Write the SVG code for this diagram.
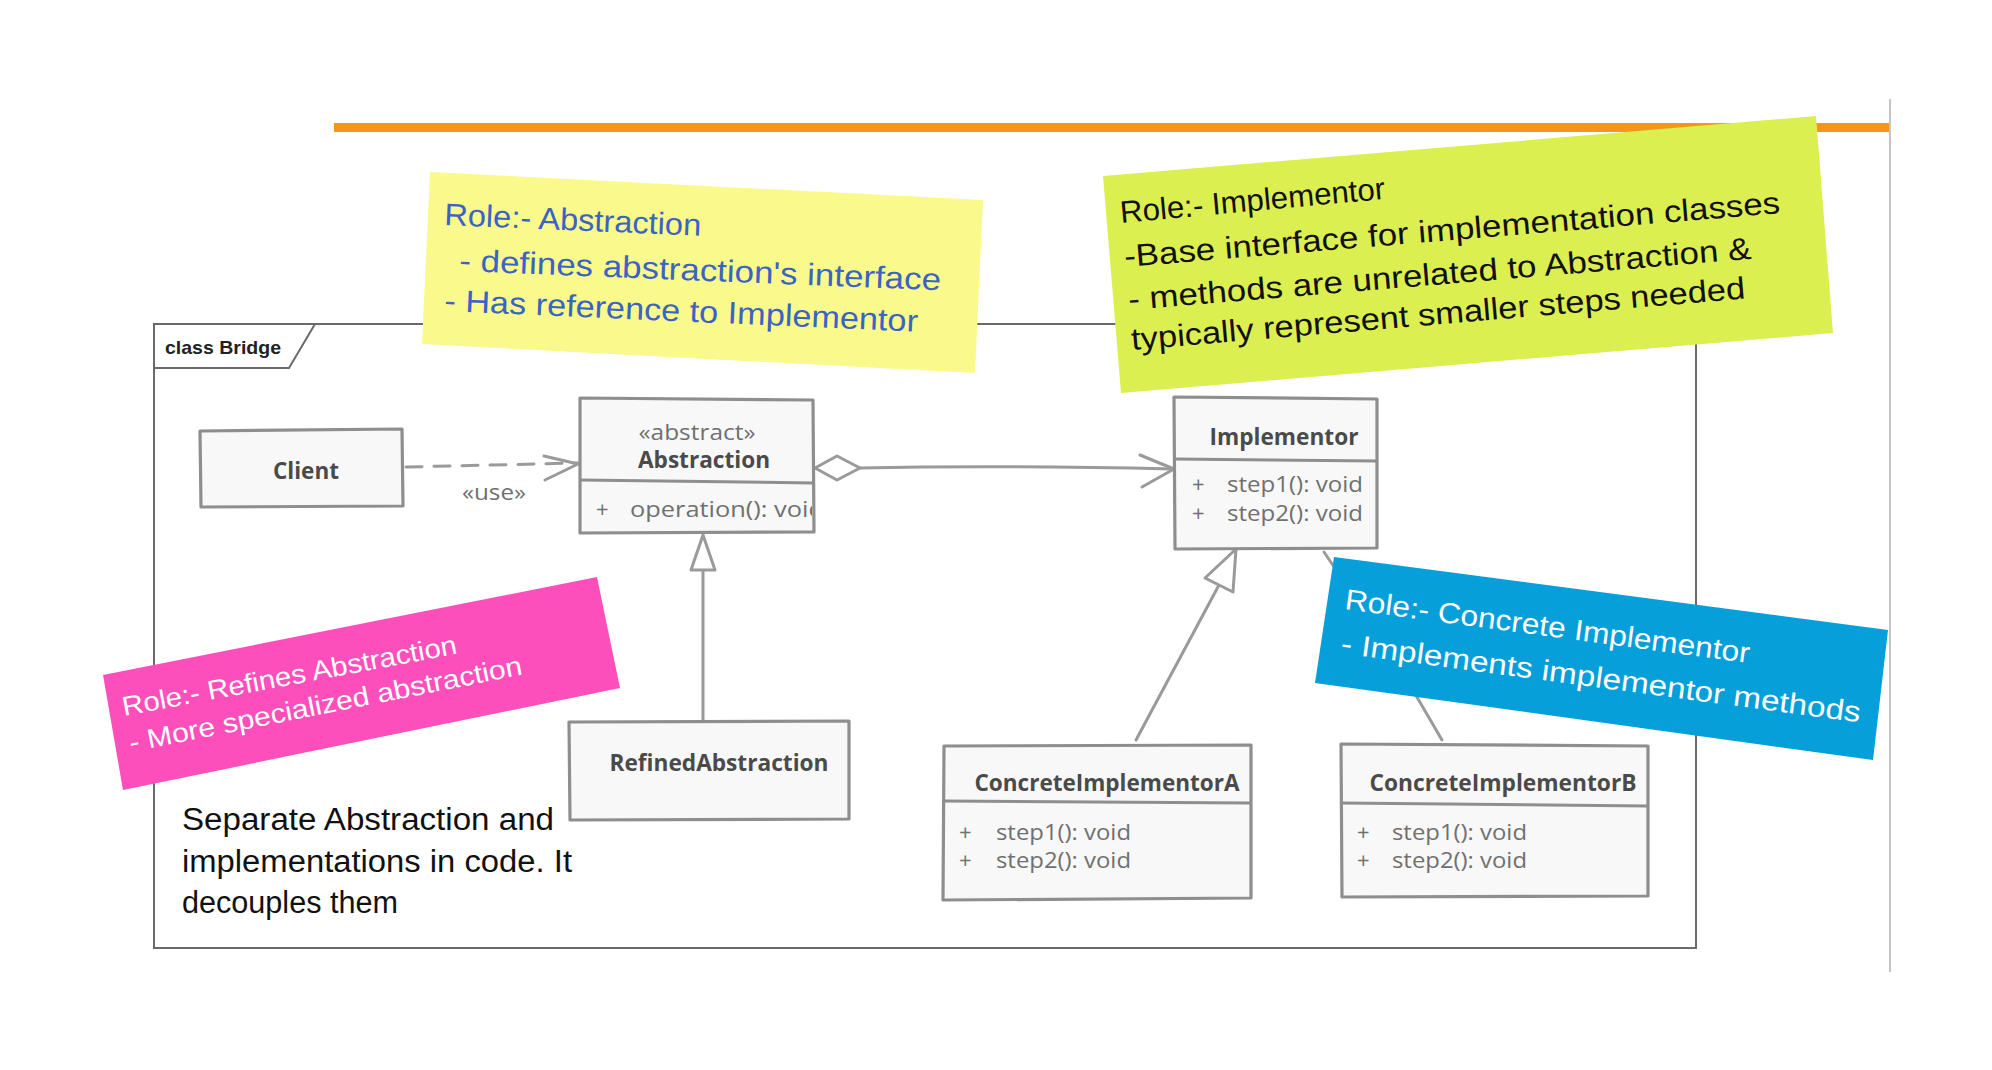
<svg xmlns="http://www.w3.org/2000/svg" width="1992" height="1070" viewBox="0 0 1992 1070">
<defs>
<style>
.box{fill:#f8f8f8;stroke:#8e8e8e;stroke-width:3.2;stroke-linejoin:round}
.div{fill:none;stroke:#8e8e8e;stroke-width:3}
.title{font-family:"Open Sans","Noto Sans","Liberation Sans",sans-serif;font-weight:700;font-size:23px;fill:#4a4a4a}
.mem{font-family:"Open Sans","Noto Sans","Liberation Sans",sans-serif;font-size:22px;fill:#707070}
.hand{font-family:"Liberation Sans","DejaVu Sans",sans-serif}
.conn{fill:none;stroke:#9a9a9a;stroke-width:3;stroke-linecap:round;stroke-linejoin:round}
.tri{fill:#ffffff;stroke:#9a9a9a;stroke-width:3;stroke-linejoin:round}
</style>
<clipPath id="clipAbs"><rect x="579" y="483" width="233" height="50"/></clipPath>
</defs>
<rect x="0" y="0" width="1992" height="1070" fill="#ffffff"/>

<g id="decor">
<rect x="334" y="123" width="1555" height="9" fill="#f7941d"/>
<line x1="1890" y1="99" x2="1890" y2="972" stroke="#c4c4c4" stroke-width="2"/>
</g>

<g id="frame">
<path d="M154,948 L154,324 L1696,324 L1696,948 Z" fill="none" stroke="#6a6a6a" stroke-width="2"/>
<path d="M154,368 L289,368 L315,324" fill="none" stroke="#6a6a6a" stroke-width="2"/>
<text x="165" y="354" font-family="Liberation Sans, Arial, sans-serif" font-weight="700" font-size="19" fill="#222" textLength="116" lengthAdjust="spacingAndGlyphs">class Bridge</text>
</g>

<g id="connectors">
<path class="conn" d="M406,467 L578,463" stroke-dasharray="16 12"/>
<polyline class="conn" points="544,456 578,464 545,480"/>
<text x="494" y="500" text-anchor="middle" class="mem" font-size="20" textLength="64" lengthAdjust="spacingAndGlyphs">«use»</text>
<path class="tri" d="M815,468 L837,456 L860,468 L837,480 Z"/>
<path class="conn" d="M860,468 Q1000,465 1172,469"/>
<polyline class="conn" points="1140,455 1174,469 1142,487"/>
<line class="conn" x1="703" y1="570" x2="703" y2="722"/>
<path class="tri" d="M703,535 L691,570 L715,570 Z"/>
<line class="conn" x1="1219" y1="585" x2="1136" y2="740"/>
<path class="tri" d="M1236,549 L1205,578 L1233,592 Z"/>
<path class="conn" d="M1324,552 Q1385,640 1442,740"/>
</g>

<g id="client">
<path class="box" d="M200,431 L402,429 L403,506 L201,507 Z"/>
<text class="title" x="306" y="479" text-anchor="middle" textLength="66" lengthAdjust="spacingAndGlyphs">Client</text>
</g>

<g id="abstraction">
<path class="box" d="M580,398 L813,400 L814,532 L580,533 Z"/>
<path class="div" d="M580,480 L814,483"/>
<text class="mem" x="697" y="440" text-anchor="middle" font-size="20" textLength="117" lengthAdjust="spacingAndGlyphs">«abstract»</text>
<text class="title" x="704" y="468" text-anchor="middle" textLength="132" lengthAdjust="spacingAndGlyphs">Abstraction</text>
<g clip-path="url(#clipAbs)">
<text class="mem" x="596" y="517">+</text>
<text class="mem" x="630" y="517" textLength="194" lengthAdjust="spacingAndGlyphs">operation(): void</text>
</g>
</g>

<g id="implementor">
<path class="box" d="M1174,397 L1377,399 L1377,548 L1175,549 Z"/>
<path class="div" d="M1174,459 L1377,461"/>
<text class="title" x="1284" y="445" text-anchor="middle" textLength="149" lengthAdjust="spacingAndGlyphs">Implementor</text>
<text class="mem" x="1192" y="492">+</text>
<text class="mem" x="1227" y="492" textLength="136" lengthAdjust="spacingAndGlyphs">step1(): void</text>
<text class="mem" x="1192" y="521">+</text>
<text class="mem" x="1227" y="521" textLength="136" lengthAdjust="spacingAndGlyphs">step2(): void</text>
</g>

<g id="refinedAbstraction">
<path class="box" d="M569,722 L849,721 L849,819 L570,820 Z"/>
<text class="title" x="719" y="771" text-anchor="middle" textLength="219" lengthAdjust="spacingAndGlyphs">RefinedAbstraction</text>
</g>

<g id="concreteImplementorA">
<path class="box" d="M944,746 L1251,745 L1251,898 L943,900 Z"/>
<path class="div" d="M944,801 L1251,803"/>
<text class="title" x="1107" y="791" text-anchor="middle" textLength="265" lengthAdjust="spacingAndGlyphs">ConcreteImplementorA</text>
<text class="mem" x="959" y="840">+</text>
<text class="mem" x="996" y="840" textLength="135" lengthAdjust="spacingAndGlyphs">step1(): void</text>
<text class="mem" x="959" y="868">+</text>
<text class="mem" x="996" y="868" textLength="135" lengthAdjust="spacingAndGlyphs">step2(): void</text>
</g>

<g id="concreteImplementorB">
<path class="box" d="M1341,744 L1648,746 L1648,896 L1342,897 Z"/>
<path class="div" d="M1341,803 L1648,806"/>
<text class="title" x="1503" y="791" text-anchor="middle" textLength="267" lengthAdjust="spacingAndGlyphs">ConcreteImplementorB</text>
<text class="mem" x="1357" y="840">+</text>
<text class="mem" x="1392" y="840" textLength="135" lengthAdjust="spacingAndGlyphs">step1(): void</text>
<text class="mem" x="1357" y="868">+</text>
<text class="mem" x="1392" y="868" textLength="135" lengthAdjust="spacingAndGlyphs">step2(): void</text>
</g>

<g id="note-bottom">
<text class="hand" x="182" y="830" font-size="31" fill="#111" textLength="372" lengthAdjust="spacingAndGlyphs">Separate Abstraction and</text>
<text class="hand" x="182" y="872" font-size="31" fill="#111" textLength="390" lengthAdjust="spacingAndGlyphs">implementations in code. It</text>
<text class="hand" x="182" y="913" font-size="31" fill="#111" textLength="216" lengthAdjust="spacingAndGlyphs">decouples them</text>
</g>

<g id="sticky-abstraction">
<polygon points="430,172 983,200 975,373 422,344" fill="#f9f98c"/>
<g class="hand" fill="#3b63c4" font-size="31">
<text transform="translate(444,225) rotate(2.4)" textLength="257" lengthAdjust="spacingAndGlyphs">Role:- Abstraction</text>
<text transform="translate(459,271) rotate(2.3)" textLength="482" lengthAdjust="spacingAndGlyphs">- defines abstraction's interface</text>
<text transform="translate(444,311) rotate(2.5)" textLength="474" lengthAdjust="spacingAndGlyphs">- Has reference to Implementor</text>
</g>
</g>

<g id="sticky-implementor">
<polygon points="1103,176 1816,116 1833,333 1121,393" fill="#dcef50"/>
<g class="hand" fill="#111111" font-size="31">
<text transform="translate(1121,223) rotate(-5.2)" textLength="266" lengthAdjust="spacingAndGlyphs">Role:- Implementor</text>
<text transform="translate(1125,267) rotate(-4.7)" textLength="658" lengthAdjust="spacingAndGlyphs">-Base interface for implementation classes</text>
<text transform="translate(1129,310) rotate(-4.7)" textLength="625" lengthAdjust="spacingAndGlyphs">- methods are unrelated to Abstraction &amp;</text>
<text transform="translate(1132,350) rotate(-4.8)" textLength="616" lengthAdjust="spacingAndGlyphs">typically represent smaller steps needed</text>
</g>
</g>

<g id="sticky-refined">
<polygon points="103,675 597,577 620,688 123,790" fill="#fd4fbb"/>
<g class="hand" fill="#ffffff" font-size="27">
<text transform="translate(124,716) rotate(-10.6)" textLength="340" lengthAdjust="spacingAndGlyphs">Role:- Refines Abstraction</text>
<text transform="translate(131,752) rotate(-11.2)" textLength="400" lengthAdjust="spacingAndGlyphs">- More specialized abstraction</text>
</g>
</g>

<g id="sticky-concrete">
<polygon points="1334,557 1888,630 1873,760 1315,683" fill="#069fd9"/>
<g class="hand" fill="#ffffff" font-size="29">
<text transform="translate(1344,609) rotate(7.6)" textLength="408" lengthAdjust="spacingAndGlyphs">Role:- Concrete Implementor</text>
<text transform="translate(1340,653) rotate(7.6)" textLength="524" lengthAdjust="spacingAndGlyphs">- Implements implementor methods</text>
</g>
</g>
</svg>
